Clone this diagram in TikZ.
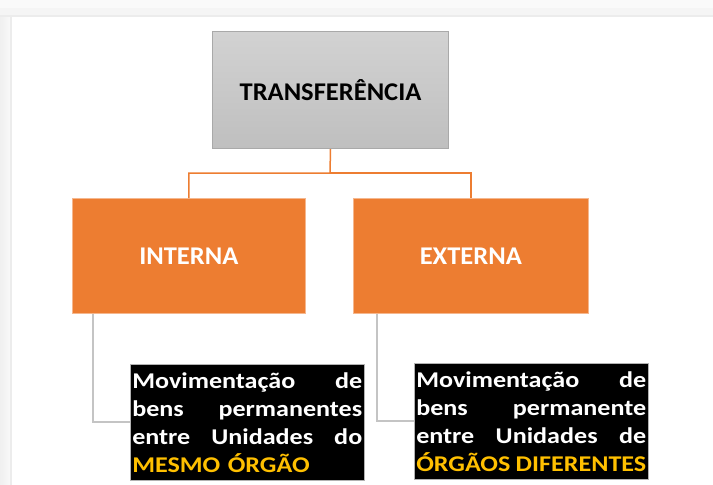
\documentclass[tikz,border=0pt]{standalone}
\usepackage{fontspec}
\setmainfont{Carlito}
\newfontfamily\widefont[FakeStretch=1.16]{Carlito}
\newfontfamily\headfont[FakeStretch=1.04]{Carlito}
\definecolor{orangeC}{HTML}{ED7D31}
\definecolor{yellowC}{HTML}{FFC000}
\definecolor{greyTop}{HTML}{D2D2D2}
\definecolor{greyBot}{HTML}{BFBFBF}
\definecolor{greyEdge}{HTML}{A9A9A9}
\definecolor{lineGrey}{HTML}{C4C4C4}
\tikzset{
  topbox/.style={draw=greyEdge, line width=1pt, top color=greyTop, bottom color=greyBot,
    minimum width=236pt, minimum height=117pt, inner sep=0pt, anchor=north west,
    font=\headfont\bfseries\fontsize{25.5}{30}\selectfont, text=black},
  orangebox/.style={fill=orangeC, draw=orangeC!55!white, line width=0.6pt,
    minimum width=233pt, minimum height=115pt, inner sep=0pt, anchor=north west,
    font=\headfont\bfseries\fontsize{25.5}{30}\selectfont, text=white},
  blackbox/.style={fill=black, draw=gray!60, line width=0.5pt,
    minimum width=234pt, minimum height=116pt, text width=230pt, inner xsep=2pt, inner ysep=0pt,
    anchor=north west, align=left, font=\widefont\bfseries\fontsize{22.5}{28}\selectfont, text=white},
  oline/.style={draw=orangeC, line width=1.5pt},
  gline/.style={draw=lineGrey, line width=2pt},
}
\begin{document}
\begin{tikzpicture}[x=1pt,y=-1pt]
\useasboundingbox (0,0) rectangle (713,485);
% frame
\fill[white] (0,0) rectangle (713,485);
\fill[gray!4] (0,0) rectangle (713,8);
\fill[gray!8] (0,8) rectangle (713,15);
\fill[gray!15] (0,15) rectangle (713,17);
\shade[left color=gray!12, right color=gray!5] (0,17) rectangle (10,485);
\fill[gray!15] (10,17) rectangle (11.5,485);
% nodes
\node[topbox] (top) at (212,31) {TRANSFERÊNCIA};
\node[orangebox] (int) at (72,198) {INTERNA};
\node[orangebox, minimum width=235pt] (ext) at (353,198) {EXTERNA};
\node[blackbox] (bl) at (130,364) {%
  \hbox to \linewidth{Movimentação\hfill de}
  \hbox to \linewidth{bens\hfill permanentes}
  \hbox to \linewidth{entre\hfill Unidades\hfill do}
  \hbox to \linewidth{\textcolor{yellowC}{MESMO ÓRGÃO}\hfill}};
\node[blackbox] (br) at (414,363) {%
  \hbox to \linewidth{Movimentação\hfill de}
  \hbox to \linewidth{bens\hfill permanente}
  \hbox to \linewidth{entre\hfill Unidades\hfill de}
  \hbox to \linewidth{\textcolor{yellowC}{ÓRGÃOS\hskip 0.22em plus 1fill DIFERENTES}}};
% connectors
\coordinate (mid) at (330,173);
\draw[oline] (top.south) -- (mid) -| (int.north);
\draw[oline] (mid) -| (ext.north);
\coordinate (lstart) at ([xshift=21pt]int.south west);
\coordinate (rstart) at ([xshift=24pt]ext.south west);
\draw[gline] (lstart) |- (bl.west);
\draw[gline] (rstart) |- (br.west);
\end{tikzpicture}
\end{document}
